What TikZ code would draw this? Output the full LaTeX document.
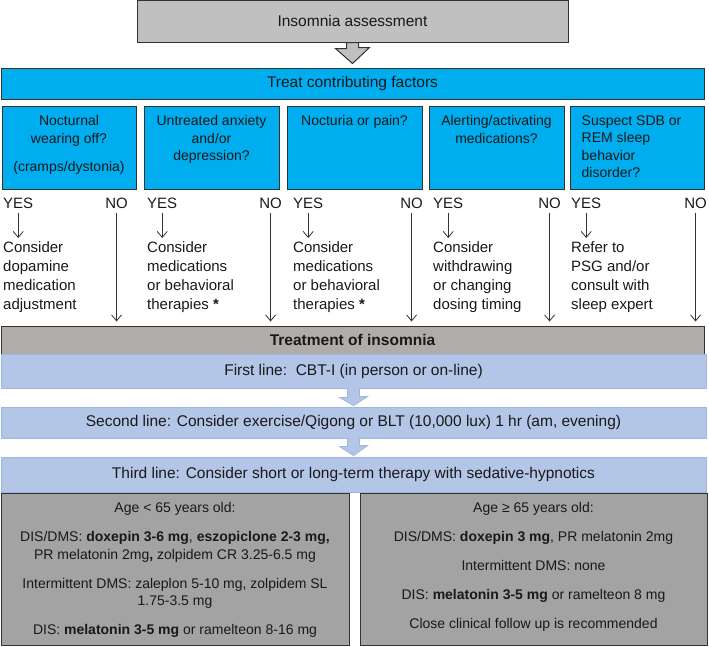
\documentclass[tikz,border=0pt]{standalone}
\usepackage{fontspec}
\setmainfont{Liberation Sans}
\usetikzlibrary{positioning,arrows.meta}
\definecolor{assessgray}{RGB}{192,192,192}
\definecolor{factorblue}{RGB}{0,174,239}
\definecolor{treatgray}{RGB}{176,172,170}
\definecolor{lineblue}{RGB}{180,198,231}
\definecolor{lineblueedge}{RGB}{160,182,224}
\definecolor{drugsgray}{RGB}{163,163,163}
\definecolor{framecol}{RGB}{50,50,50}
\definecolor{inkcol}{RGB}{25,25,25}
\begin{document}
\begin{tikzpicture}[x=1pt,y=-1pt,
  box/.style={draw=framecol,line width=1pt,inner sep=0pt},
  qtext/.style={anchor=north,inner sep=0pt,align=center,text=inkcol,font=\fontsize{14}{17.5}\selectfont},
  answer/.style={inner sep=0pt,text=inkcol,font=\fontsize{15}{19}\selectfont},
  consider/.style={anchor=north west,inner sep=0pt,align=left,text=inkcol,font=\fontsize{15}{19}\selectfont},
  bigtext/.style={text=inkcol,font=\fontsize{15.5}{19}\selectfont},
  linebox/.style={draw=lineblueedge,fill=lineblue,line width=0.8pt,inner sep=0pt},
  druglist/.style={anchor=north,inner sep=0pt,align=center,text=inkcol,font=\fontsize{14}{17.5}\selectfont},
  flowarrow/.style={draw=framecol,line width=0.8pt,-{Straight Barb[length=6pt,width=10pt]}}]
\useasboundingbox (0,0) rectangle (709,646);

% Assessment box and hollow arrow
\node[box,fill=assessgray,minimum width=431,minimum height=41.5,bigtext] (assess) at (352.5,21.25) {Insomnia assessment};
\node[box,fill=factorblue,minimum width=703,minimum height=31,bigtext] (treat) at (352.5,83.5) {Treat contributing factors};
\coordinate (tip) at ([yshift=4pt]assess.south |- treat.north);
\draw[draw=framecol,fill=assessgray,line width=1pt,line join=miter]
  ([xshift=-6pt]assess.south) -- ++(0,6) -- ++(-11,0) -- (tip) -- ++(17,-16) -- ++(-11,0)
  -- ([xshift=6pt]assess.south) -- cycle;

% Contributing factor boxes
\node[box,fill=factorblue,minimum width=134,minimum height=83] (q1) at (69,147.5) {};
\node[box,fill=factorblue,minimum width=135,minimum height=83] (q2) at (211.5,147.5) {};
\node[box,fill=factorblue,minimum width=135,minimum height=83] (q3) at (354.5,147.5) {};
\node[box,fill=factorblue,minimum width=135,minimum height=83] (q4) at (496.5,147.5) {};
\node[box,fill=factorblue,minimum width=134,minimum height=83] (q5) at (637,147.5) {};

\node[qtext] (q1t) at ([yshift=-10pt]q1.north) {Nocturnal\\wearing off?\\[11pt](cramps/dystonia)};
\node[qtext] (q2t) at ([yshift=-10pt]q2.north) {Untreated anxiety\\and/or\\depression?};
\node[qtext] (q3t) at ([yshift=-10pt]q3.north) {Nocturia or pain?};
\node[qtext] (q4t) at ([yshift=-10pt]q4.north) {Alerting/activating\\medications?};
\node[qtext,anchor=north west,align=left] (q5t) at ([xshift=12pt,yshift=-10pt]q5.north west) {Suspect SDB or\\REM sleep\\behavior\\disorder?};

% YES / NO answers
\node[answer,anchor=north west] (y1) at (3,197.5) {YES};
\node[answer,anchor=north west] (y2) at (147,197.5) {YES};
\node[answer,anchor=north west] (y3) at (293,197.5) {YES};
\node[answer,anchor=north west] (y4) at (433,197.5) {YES};
\node[answer,anchor=north west] (y5) at (571,197.5) {YES};
\node[answer,anchor=north east] (n1) at (128,197.5) {NO};
\node[answer,anchor=north east] (n2) at (282,197.5) {NO};
\node[answer,anchor=north east] (n3) at (423,197.5) {NO};
\node[answer,anchor=north east] (n4) at (561,197.5) {NO};
\node[answer,anchor=north east] (n5) at (707,197.5) {NO};

% Actions for YES
\node[consider] (c1) at ([yshift=-33pt]y1.south west) {Consider\\dopamine\\medication\\adjustment};
\node[consider] (c2) at ([yshift=-33pt]y2.south west) {Consider\\medications\\or behavioral\\therapies \textbf{*}};
\node[consider] (c3) at ([yshift=-33pt]y3.south west) {Consider\\medications\\or behavioral\\therapies \textbf{*}};
\node[consider] (c4) at ([yshift=-33pt]y4.south west) {Consider\\withdrawing\\or changing\\dosing timing};
\node[consider] (c5) at ([yshift=-33pt]y5.south west) {Refer to\\PSG and/or\\consult with\\sleep expert};

% Treatment of insomnia
\node[box,fill=treatgray,minimum width=703,minimum height=28,bigtext,font=\fontsize{15.5}{19}\selectfont\bfseries] (tx) at (352.5,340) {Treatment of insomnia};
\node[linebox,minimum width=705,minimum height=34,bigtext] (first) at (353.5,371) {First line:\ \ CBT-I (in person or on-line)};
\node[linebox,minimum width=705,minimum height=31,bigtext] (second) at (353.5,422.5) {Second line: Consider exercise/Qigong or BLT (10,000 lux) 1 hr (am, evening)};
\node[linebox,minimum width=705,minimum height=35,bigtext] (third) at (353.5,474.5) {Third line: Consider short or long-term therapy with sedative-hypnotics};

% YES and NO arrows
\draw[flowarrow] ([yshift=-4.5pt]y1.south) -- ([yshift=3.5pt]y1.south |- c1.north);
\draw[flowarrow] ([yshift=-4.5pt]y2.south) -- ([yshift=3.5pt]y2.south |- c2.north);
\draw[flowarrow] ([yshift=-4.5pt]y3.south) -- ([yshift=3.5pt]y3.south |- c3.north);
\draw[flowarrow] ([yshift=-4.5pt]y4.south) -- ([yshift=3.5pt]y4.south |- c4.north);
\draw[flowarrow] ([yshift=-4.5pt]y5.south) -- ([yshift=3.5pt]y5.south |- c5.north);
\draw[flowarrow] ([yshift=-4.5pt]n1.south) -- ([yshift=4pt]n1.south |- tx.north);
\draw[flowarrow] ([yshift=-4.5pt]n2.south) -- ([yshift=4pt]n2.south |- tx.north);
\draw[flowarrow] ([yshift=-4.5pt]n3.south) -- ([yshift=4pt]n3.south |- tx.north);
\draw[flowarrow] ([yshift=-4.5pt]n4.south) -- ([yshift=4pt]n4.south |- tx.north);
\draw[flowarrow] ([yshift=-4.5pt]n5.south) -- ([yshift=4pt]n5.south |- tx.north);

% Block arrows between treatment lines
\draw[draw=lineblueedge,fill=lineblue,line width=0.8pt]
  ([xshift=-6pt]first.south) -- ++(0,9) -- ++(-8,0) -- ([yshift=1pt]first.south |- second.north)
  -- ++(14,-9) -- ++(-8,0) -- ([xshift=6pt]first.south) -- cycle;
\draw[draw=lineblueedge,fill=lineblue,line width=0.8pt]
  ([xshift=-6pt]second.south) -- ++(0,8) -- ++(-8,0) -- ([yshift=1pt]second.south |- third.north)
  -- ++(14,-10) -- ++(-8,0) -- ([xshift=6pt]second.south) -- cycle;
\fill[lineblue] ([xshift=-5.5pt,yshift=0.8pt]first.south) rectangle ([xshift=5.5pt,yshift=-1pt]first.south);
\fill[lineblue] ([xshift=-5.5pt,yshift=0.8pt]second.south) rectangle ([xshift=5.5pt,yshift=-1pt]second.south);

% Sedative-hypnotic options by age
\node[box,fill=drugsgray,minimum width=348,minimum height=152] (young) at (175,569) {};
\node[box,fill=drugsgray,minimum width=347,minimum height=152] (old) at (533.5,569) {};
\node[druglist] (youngt) at ([yshift=-10pt]young.north) {Age < 65 years old:\\[11.5pt]
  DIS/DMS: \textbf{doxepin 3-6 mg}, \textbf{eszopiclone 2-3 mg,}\\
  PR melatonin 2mg\textbf{,} zolpidem CR 3.25-6.5 mg\\[11.5pt]
  Intermittent DMS: zaleplon 5-10 mg, zolpidem SL\\
  1.75-3.5 mg\\[11.5pt]
  DIS: \textbf{melatonin 3-5 mg} or ramelteon 8-16 mg};
\node[druglist] (oldt) at ([yshift=-10pt]old.north) {Age ≥ 65 years old:\\[11.5pt]
  DIS/DMS: \textbf{doxepin 3 mg}, PR melatonin 2mg\\[11.5pt]
  Intermittent DMS: none\\[11.5pt]
  DIS: \textbf{melatonin 3-5 mg} or ramelteon 8 mg\\[11.5pt]
  Close clinical follow up is recommended};
\end{tikzpicture}
\end{document}
